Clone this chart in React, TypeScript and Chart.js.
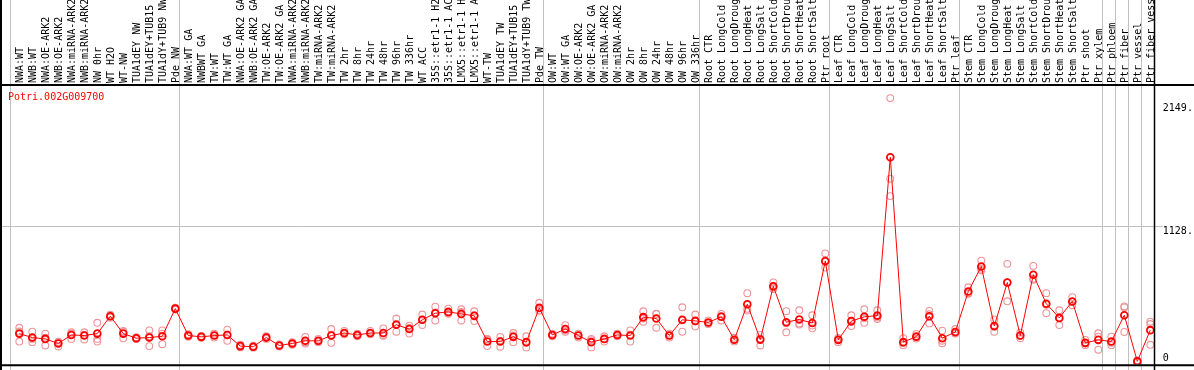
import React, { useEffect, useRef } from "react";
import { Chart, registerables } from "chart.js";

Chart.register(...registerables);

const geneId = "Potri.002G009700";

const categories = [
  "NWA:WT", "NWB:WT", "NWA:OE-ARK2", "NWB:OE-ARK2", "NWA:miRNA-ARK2", "NWB:miRNA-ARK2",
  "NW 0hr", "WT H2O", "WT-NW", "TUA1dEY NW", "TUA1dEY+TUB15 NW", "TUA1dY+TUB9 NW", "Pde NW",
  "NWA:WT GA", "NWBWT GA", "TW:WT", "TW:WT GA", "NWA:OE-ARK2 GA", "NWB:OE-ARK2 GA",
  "TW:OE-ARK2", "TW:OE-ARK2 GA", "NWA:miRNA-ARK2 GA", "NWB:miRNA-ARK2 GA", "TW:miRNA-ARK2",
  "TW:miRNA-ARK2 GA", "TW 2hr", "TW 8hr", "TW 24hr", "TW 48hr", "TW 96hr", "TW 336hr",
  "WT ACC", "35S::etr1-1 H2O", "35S::etr1-1 ACC", "LMX5::etr1-1 H2O", "LMX5::etr1-1 ACC",
  "WT-TW", "TUA1dEY TW", "TUA1dEY+TUB15 TW", "TUA1dY+TUB9 TW", "Pde TW",
  "OW:WT", "OW:WT GA", "OW:OE-ARK2", "OW:OE-ARK2 GA", "OW:miRNA-ARK2", "OW:miRNA-ARK2 GA",
  "OW 2hr", "OW 8hr", "OW 24hr", "OW 48hr", "OW 96hr", "OW 336hr",
  "Root CTR", "Root LongCold", "Root LongDrought", "Root LongHeat", "Root LongSalt",
  "Root ShortCold", "Root ShortDrought", "Root ShortHeat", "Root ShortSalt", "Ptr root",
  "Leaf CTR", "Leaf LongCold", "Leaf LongDrought", "Leaf LongHeat", "Leaf LongSalt",
  "Leaf ShortCold", "Leaf ShortDrought", "Leaf ShortHeat", "Leaf ShortSalt", "Ptr leaf",
  "Stem CTR", "Stem LongCold", "Stem LongDrought", "Stem LongHeat", "Stem LongSalt",
  "Stem ShortCold", "Stem ShortDrought", "Stem ShortHeat", "Stem ShortSalt", "Ptr shoot", "Ptr xylem",
  "Ptr phloem", "Ptr fiber", "Ptr vessel", "Ptr fiber vessel",
];

// sizes of the category groups separated by grey vertical lines
const groupSizes = [13, 28, 12, 10, 10, 11, 1, 1, 1, 1];

const meanValues = [
  235, 202, 191, 153, 224, 219, 235, 380, 235, 197, 202, 213, 443,
  219, 208, 219, 224, 131, 126, 202, 136, 153, 175, 175, 219, 240, 224, 240, 240, 309, 273,
  350, 405, 416, 399, 383, 169, 169, 208, 164, 449,
  224, 273, 219, 164, 191, 224, 219, 372, 361, 219, 350, 341,
  328, 375, 184, 480, 185, 629, 330, 353, 323, 840,
  183, 339, 375, 385, 1703, 164, 210, 380, 197, 249,
  586, 794, 298, 660, 219, 725, 484, 366, 503, 158, 183,
  169, 388, 4, 264,
];

const replicate1 = [
  284, 251, 235, 164, 246, 246, 325, 392, 257, 205, 262, 262, 450,
  230, 215, 235, 268, 142, 134, 213, 145, 164, 208, 191, 273, 257, 235, 257, 279, 361, 301,
  394, 459, 443, 438, 421, 186, 208, 240, 213, 492,
  235, 306, 235, 191, 213, 235, 262, 421, 399, 235, 454, 394,
  345, 399, 200, 572, 224, 662, 422, 429, 388, 903,
  199, 388, 438, 429, 2196, 197, 232, 424, 260, 273,
  621, 843, 353, 816, 243, 799, 572, 429, 539, 183, 238,
  210, 462, 12, 334,
];

const replicate2 = [
  169, 164, 136, 128, 191, 186, 169, 368, 197, 190, 131, 147, 436,
  208, 200, 202, 175, 120, 118, 191, 128, 142, 153, 164, 158, 230, 213, 230, 224, 251, 235,
  306, 344, 400, 344, 339, 131, 126, 164, 120, 427,
  213, 251, 202, 120, 169, 213, 169, 334, 284, 202, 251, 295,
  315, 344, 170, 427, 136, 607, 246, 320, 279, 785,
  164, 298, 325, 369, 1380, 139, 194, 320, 155, 238,
  566, 763, 251, 504, 197, 692, 405, 306, 471, 139, 101,
  139, 249, 0, 142,
];

const replicate3 = [
  252, 191, 202, 167, 235, 225, 191, 380, 251, 197, 213, 235, 443,
  219, 209, 220, 229, 131, 126, 202, 135, 153, 164, 170, 226, 233, 224, 233, 217, 315, 283,
  350, 412, 405, 415, 389, 190, 173, 220, 159, 428,
  224, 262, 220, 181, 191, 224, 226, 361, 400, 220, 345, 338,
  324, 382, 183, 441, 195, 618, 322, 310, 302, 832,
  186, 331, 362, 357, 1525, 156, 204, 396, 176, 236,
  571, 776, 290, 660, 217, 684, 475, 363, 499, 152, 210,
  158, 453, 0, 315,
];

const yTickValues = [0, 1128, 2149];
const yTickLabels = ["0", "1128.", "2149."];
const gridValue = 1128;

const MONO = "'DejaVu Sans Mono', 'Liberation Mono', monospace";

const decorPlugin = {
  id: "decor",
  beforeDraw(chart: any) {
    const ctx = chart.ctx;
    const xs = chart.scales.x;
    const ys = chart.scales.y;
    const step = xs.width / categories.length;
    ctx.save();
    ctx.strokeStyle = "#c0c0c0";
    ctx.lineWidth = 1;
    let start = 0;
    for (const size of groupSizes) {
      const px = Math.floor(xs.getPixelForValue(start) - step * 0.66) + 0.5;
      ctx.beginPath();
      ctx.moveTo(px, 0);
      ctx.lineTo(px, chart.height);
      ctx.stroke();
      start += size;
    }
    const gy = Math.round(ys.getPixelForValue(gridValue) - 0.5) + 0.5;
    ctx.beginPath();
    ctx.moveTo(0, gy);
    ctx.lineTo(chart.chartArea.left, gy);
    ctx.stroke();
    ctx.restore();
  },
  afterDraw(chart: any) {
    const ctx = chart.ctx;
    const xs = chart.scales.x;
    const step = xs.width / categories.length;
    const area = chart.chartArea;
    ctx.save();
    ctx.strokeStyle = "#000";
    ctx.lineWidth = 2;
    ctx.beginPath();
    ctx.moveTo(1, 0);
    ctx.lineTo(1, chart.height);
    ctx.stroke();
    ctx.beginPath();
    ctx.moveTo(0, area.bottom + 1);
    ctx.lineTo(chart.width, area.bottom + 1);
    ctx.stroke();
    ctx.beginPath();
    ctx.moveTo(0, area.top + 1);
    ctx.lineTo(chart.width, area.top + 1);
    ctx.stroke();
    const rx = Math.floor(xs.getPixelForValue(categories.length - 1) + step * 0.34) + 0.5;
    ctx.lineWidth = 1.5;
    ctx.beginPath();
    ctx.moveTo(rx, 0);
    ctx.lineTo(rx, chart.height);
    ctx.stroke();
    ctx.fillStyle = "#ff0000";
    ctx.font = "10px " + MONO;
    ctx.textBaseline = "alphabetic";
    ctx.textAlign = "left";
    ctx.fillText(geneId, 8, area.top + 16);
    ctx.restore();
  },
};

export default function App() {
  const ref = useRef<HTMLCanvasElement>(null);

  useEffect(() => {
    const canvas = ref.current;
    if (!canvas) return;
    const repStyle = {
      showLine: false,
      pointRadius: 3.4,
      pointBorderWidth: 1.1,
      pointBorderColor: "#ec9499",
      pointBackgroundColor: "rgba(0,0,0,0)",
      borderColor: "#ec9499",
    };
    const chart = new Chart(canvas, {
      type: "line",
      data: {
        labels: categories,
        datasets: [
          {
            label: "mean",
            data: meanValues,
            borderColor: "#ff0000",
            borderWidth: 1,
            pointRadius: 3.4,
            pointBorderWidth: 1.8,
            pointBorderColor: "#ff0000",
            pointBackgroundColor: "rgba(0,0,0,0)",
            tension: 0,
          },
          { label: "rep1", data: replicate1, ...repStyle },
          { label: "rep2", data: replicate2, ...repStyle },
          { label: "rep3", data: replicate3, ...repStyle },
        ],
      },
      options: {
        animation: false,
        responsive: false,
        devicePixelRatio: 1,
        events: [],
        layout: { padding: { left: 12.8, right: 0, top: 0, bottom: 2 } },
        plugins: {
          legend: { display: false },
          tooltip: { enabled: false },
          title: { display: false },
        },
        scales: {
          x: {
            type: "category",
            position: "top",
            offset: true,
            grid: { display: false, drawTicks: false },
            border: { display: false },
            ticks: {
              autoSkip: false,
              minRotation: 90,
              maxRotation: 90,
              padding: 1,
              labelOffset: 13.4,
              color: "#000",
              font: { family: MONO, size: 10 },
            },
            afterFit: (s: any) => {
              s.height = 84;
              s.paddingLeft = 0;
              s.paddingRight = 0;
            },
          },
          y: {
            type: "linear",
            position: "right",
            min: -19.7,
            max: 2313.5,
            afterBuildTicks: (s: any) => {
              s.ticks = yTickValues.map((v) => ({ value: v }));
            },
            afterFit: (s: any) => {
              s.width = 37.2;
              s.paddingTop = 0;
              s.paddingBottom = 0;
            },
            grid: {
              color: (c: any) => (c.tick && c.tick.value === gridValue ? "#c0c0c0" : "rgba(0,0,0,0)"),
              lineWidth: 1,
              drawTicks: true,
              tickLength: 6,
            },
            border: { display: false },
            ticks: {
              align: "start",
              padding: 0,
              color: "#000",
              font: (c: any) => ({
                family: MONO,
                size: 10,
                lineHeight: c.tick && c.tick.value === 0 ? 1.72 : 1.2,
              }),
              callback: (v: any) => {
                const i = yTickValues.indexOf(Number(v));
                const text = i >= 0 ? yTickLabels[i] : "";
                return Number(v) === 0 ? [text, ""] : text;
              },
            },
          },
        },
      },
      plugins: [decorPlugin],
    } as any);
    return () => chart.destroy();
  }, []);

  return (
    <div style={{ position: "absolute", left: 0, top: 0, width: 1194, height: 370, background: "#fff" }}>
      <canvas ref={ref} width={1194} height={370} style={{ display: "block", width: 1194, height: 370 }} />
    </div>
  );
}
